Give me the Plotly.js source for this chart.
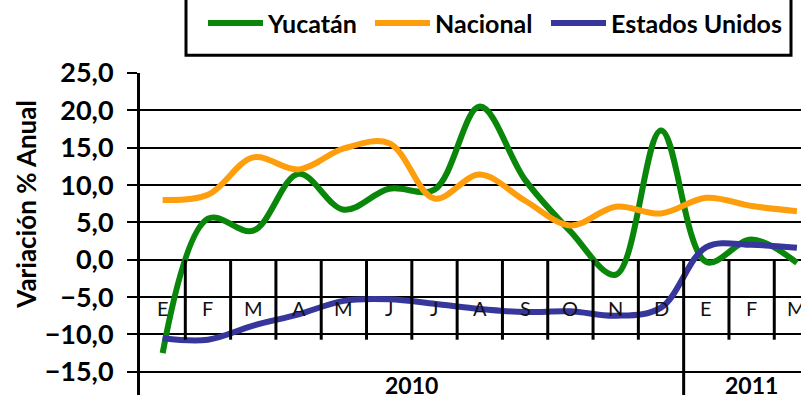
<!DOCTYPE html>
<html>
<head>
<meta charset="utf-8">
<script src="https://cdn.plot.ly/plotly-3.0.1.min.js"></script>
<style>
  html, body { margin: 0; padding: 0; background: #fff; }
  #grafica { width: 801px; height: 401px; }
</style>
</head>
<body>
<div id="grafica"></div>
<script>
const meses = ["E", "F", "M", "A", "M", "J", "J", "A", "S", "O", "N", "D", "E", "F", "M"];
const anios = ["2010", "2011"];
const yucatan = [-12.5, 5.5, 3.9, 11.5, 6.7, 9.5, 9.4, 20.5, 10.7, 3.8, -2.0, 17.3, -0.3, 2.7, -0.4];
const nacional = [8.0, 8.7, 13.7, 12.1, 14.9, 15.6, 8.2, 11.4, 7.9, 4.6, 7.1, 6.2, 8.3, 7.2, 6.5];
const estadosUnidos = [-10.5, -10.7, -8.8, -7.3, -5.5, -5.3, -5.9, -6.6, -7.0, -6.9, -7.5, -6.4, 1.7, 2.0, 1.6];

const xIdx = meses.map((m, i) => i);
const fuente = "Lato, 'Open Sans', sans-serif";

function serie(nombre, valores, color, leyenda) {
    return {
        x: xIdx,
        y: valores,
        name: nombre,
        legend: leyenda,
        type: 'scatter',
        mode: 'lines',
        line: {color: color, width: 6, shape: 'spline', smoothing: 1},
        hoverinfo: 'skip'
    };
}

const data = [
    serie("Yucatán", yucatan, "#0a870a", 'legend'),
    serie("Nacional", nacional, "#ff9e0d", 'legend2'),
    serie("Estados Unidos", estadosUnidos, "#36369c", 'legend3')
];

// etiquetas de mes dentro del area y de año debajo
const anotaciones = meses.map((m, i) => ({
    x: i, y: -6.5, xref: 'x', yref: 'y', text: m, showarrow: false,
    font: {family: fuente, size: 20, color: '#111'}
}));
anotaciones.push({x: 5.5, y: -16.8, xref: 'x', yref: 'y', text: "<b>" + anios[0] + "</b>",
    showarrow: false, font: {family: fuente, size: 23, color: '#000'}});
anotaciones.push({x: 13, y: -16.8, xref: 'x', yref: 'y', text: "<b>" + anios[1] + "</b>",
    showarrow: false, font: {family: fuente, size: 23, color: '#000'}});
anotaciones.push({x: -0.172, y: 0.592, xref: 'paper', yref: 'paper', xanchor: 'center', yanchor: 'middle',
    text: "<b>Variación % Anual</b>",
    textangle: -90, showarrow: false, font: {family: fuente, size: 26, color: '#000'}});

// separadores de meses
const lineas = [];
for (let k = 1; k < meses.length; k++) {
    const largo = (k === 12);
    lineas.push({
        type: 'line', xref: 'x', yref: 'y',
        x0: k - 0.5, x1: k - 0.5, y0: 0, y1: largo ? -18.1 : -10.7,
        line: {color: '#000', width: 3}
    });
}
// marco de la leyenda
lineas.push({
    type: 'rect', xref: 'paper', yref: 'paper',
    x0: (186 - 140) / 661, x1: (791 - 140) / 661, y0: 1 + 18 / 325, y1: 1.3,
    line: {color: '#000', width: 3}
});

function leyenda(px) {
    return {
        orientation: 'h', x: (px - 140) / 661, xanchor: 'left', y: 1.226, yanchor: 'top',
        font: {family: fuente, size: 25, color: '#000', weight: 'bold'},
        itemwidth: 55, bgcolor: 'rgba(0,0,0,0)'
    };
}

const layout = {
    width: 801,
    height: 401,
    margin: {l: 140, r: 0, t: 70, b: 6},
    paper_bgcolor: '#fff',
    plot_bgcolor: '#fff',
    separators: ',.',
    showlegend: true,
    legend: leyenda(203),
    legend2: leyenda(370),
    legend3: leyenda(546),
    xaxis: {
        range: [-0.5, 14.09], showgrid: false, zeroline: false,
        showticklabels: false, showline: false, ticks: ''
    },
    yaxis: {
        range: [-18.1, 25], tick0: 0, dtick: 5, tickformat: '.1f',
        showgrid: true, gridcolor: '#000', gridwidth: 2, zeroline: false,
        showline: true, linecolor: '#000', linewidth: 3,
        ticks: 'outside', ticklen: 10, tickwidth: 2, tickcolor: '#000',
        ticklabelstandoff: 8,
        tickfont: {family: fuente, size: 27, color: '#000', weight: 'bold'}
    },
    annotations: anotaciones,
    shapes: lineas
};

Plotly.newPlot("grafica", data, layout, {staticPlot: true});
</script>
</body>
</html>
